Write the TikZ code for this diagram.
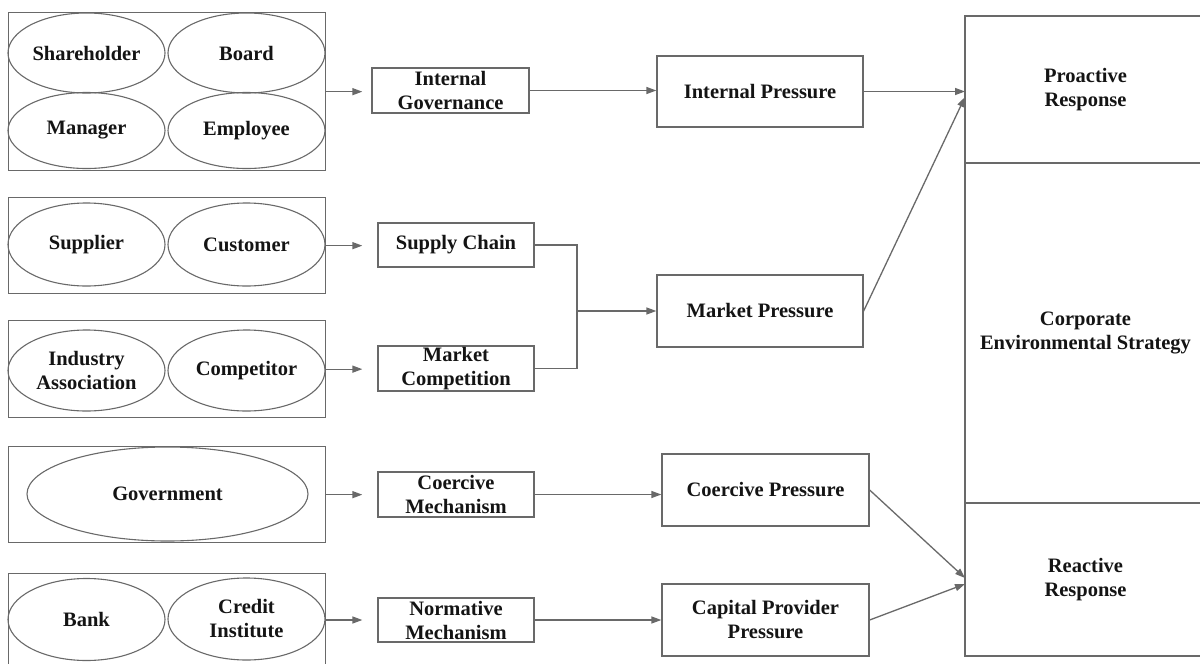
\documentclass[tikz,border=0pt]{standalone}
\usepackage{fontspec}
\setmainfont{Liberation Serif}
\usetikzlibrary{shapes.geometric,arrows.meta}
\definecolor{linegray}{RGB}{105,105,105}
\definecolor{txt}{RGB}{20,20,20}
\begin{document}
\begin{tikzpicture}[x=1pt,y=-1pt,
  every node/.style={font=\fontsize{20.5}{24}\selectfont\bfseries, text=txt, align=center, inner sep=0pt},
  grp/.style={draw=linegray, line width=1.3pt, rectangle, anchor=north west},
  ell/.style={draw=linegray, line width=1.1pt, ellipse, minimum width=157pt},
  box/.style={draw=linegray, line width=1.3pt, rectangle},
  mech/.style={box, minimum width=156pt, minimum height=45pt},
  pres/.style={box, minimum width=206pt, minimum height=72pt},
  conn/.style={draw=linegray, line width=1.3pt},
  arr/.style={conn, -{Triangle[length=10pt,width=7pt]}}
]
\useasboundingbox (0,0) rectangle (1200,664);
\fill[white] (0,0) rectangle (1200,664);

% group boxes
\node[grp, minimum width=317pt, minimum height=158pt] (g1) at (8,12) {};
\node[grp, minimum width=317pt, minimum height=96pt] (g2) at (8,197) {};
\node[grp, minimum width=317pt, minimum height=97pt] (g3) at (8,320) {};
\node[grp, minimum width=317pt, minimum height=96pt] (g4) at (8,446) {};
\node[grp, minimum width=317pt, minimum height=120pt] (g5) at (8,573) {};

% ellipses
\node[ell, minimum height=80pt] (sh) at (86.5,53) {Shareholder};
\node[ell, minimum height=80pt] (bo) at (246.5,53) {Board};
\node[ell, minimum height=76pt] (ma) at (86.5,130.5) {Manager};
\node[ell, minimum height=76pt] (em) at (246.5,130.5) {Employee};
\node[ell, minimum height=83pt] (su) at (86.5,244.5) {Supplier};
\node[ell, minimum height=83pt] (cu) at (246.5,244.5) {Customer};
\node[ell, minimum height=81pt] (ia) at (86.5,370.5) {Industry\\Association};
\node[ell, minimum height=81pt] (co) at (246.5,370.5) {Competitor};
\node[ell, minimum width=281pt, minimum height=94pt] (gv) at (167.5,494) {Government};
\node[ell, minimum height=82pt] (ba) at (86.5,619.5) {Bank};
\node[ell, minimum height=82pt] (ci) at (246.5,619) {Credit\\Institute};

% mechanism boxes
\node[mech, minimum width=157pt] (ig) at (450.5,90.5) {Internal\\Governance};
\node[mech, minimum height=44pt] (sc) at (456,245) {Supply Chain};
\node[mech] (mc) at (456,368.5) {Market\\Competition};
\node[mech] (cm) at (456,494.5) {Coercive\\Mechanism};
\node[mech, minimum height=44pt] (nm) at (456,620) {Normative\\Mechanism};

% pressure boxes
\node[pres, minimum height=71pt] (ip) at (760,91.5) {Internal Pressure};
\node[pres] (mp) at (760,311) {Market Pressure};
\node[pres, minimum width=207pt] (cp) at (765.5,490) {Coercive Pressure};
\node[pres, minimum width=207pt] (cpp) at (765.5,620) {Capital Provider\\Pressure};

% strategy column
\node[box, minimum width=241pt, minimum height=147pt] (pr) at (1085.5,89.5) {Proactive\\Response};
\node[box, minimum width=241pt, minimum height=340pt] (ces) at (1085.5,333) {Corporate\\Environmental Strategy};
\node[box, minimum width=241pt, minimum height=153pt] (rr) at (1085.5,579.5) {Reactive\\Response};

% connector end points
\coordinate (j) at (577,311);
\coordinate (t1) at (965,91.5);
\coordinate (t2) at (965,97);
\coordinate (t3) at (965,578);
\coordinate (t4) at (965,584);

% group -> mechanism
\draw[arr, shorten >=9pt] (g1.east) -- (g1.east -| ig.west);
\draw[arr, shorten >=15pt] (g2.east) -- (g2.east -| sc.west);
\draw[arr, shorten >=15pt] (g3.east) -- (g3.east -| mc.west);
\draw[arr, shorten >=15pt] (g4.east) -- (g4.east -| cm.west);
\draw[arr, shorten >=15pt] (g5.east |- nm.west) -- (nm.west);

% mechanism -> pressure
\draw[arr] (ig.east) -- (ig.east -| ip.west);
\draw[conn] (sc.east) -| (j);
\draw[conn] (mc.east) -| (j);
\draw[arr] (j) -- (mp.west);
\draw[arr] (cm.east) -- (cm.east -| cp.west);
\draw[arr] (nm.east) -- (nm.east -| cpp.west);

% pressure -> strategy
\draw[arr] (ip.east) -- (t1);
\draw[arr] (mp.east) -- (t2);
\draw[arr] (cp.east) -- (t3);
\draw[arr] (cpp.east) -- (t4);
\end{tikzpicture}
\end{document}
